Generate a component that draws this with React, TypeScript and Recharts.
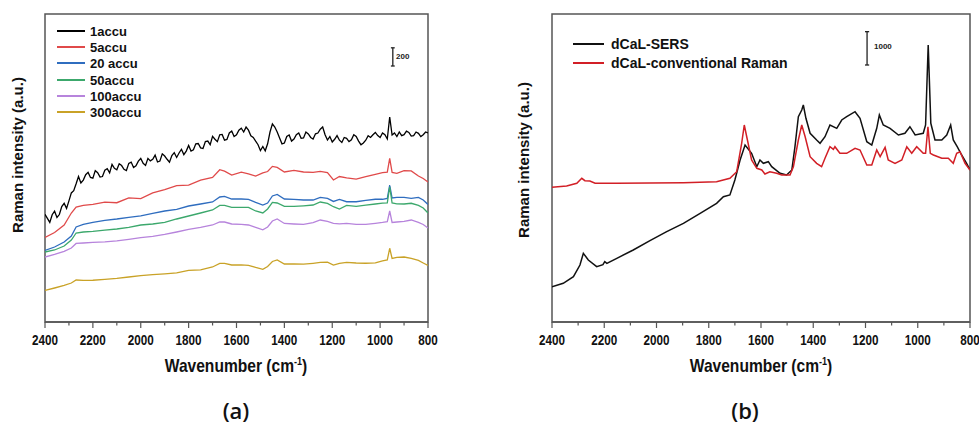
import React from "react";
import { LineChart, Line, XAxis, YAxis, ReferenceArea, ReferenceLine } from "recharts";

// ---- panel (a): accumulation series ----
const WAVE_A = [2400, 2360, 2320, 2290, 2270, 2240, 2200, 2150, 2100, 2050, 2000, 1950, 1900, 1850, 1800, 1750, 1700, 1670, 1650, 1620, 1580, 1550, 1520, 1490, 1470, 1450, 1430, 1400, 1360, 1320, 1280, 1250, 1220, 1195, 1170, 1140, 1100, 1060, 1020, 990, 970, 960, 950, 930, 900, 870, 840, 820, 800];
const ACCU5 = [930, 985, 1067, 1199, 1265, 1282, 1295, 1318, 1312, 1365, 1358, 1420, 1455, 1500, 1506, 1560, 1590, 1675, 1660, 1617, 1648, 1630, 1606, 1640, 1655, 1712, 1700, 1650, 1668, 1650, 1645, 1656, 1644, 1562, 1600, 1585, 1572, 1598, 1625, 1642, 1648, 1801, 1645, 1636, 1664, 1662, 1606, 1578, 1540];
const ACCU20 = [787, 825, 880, 946, 1045, 1073, 1095, 1119, 1133, 1150, 1168, 1194, 1221, 1240, 1276, 1298, 1320, 1375, 1381, 1353, 1353, 1348, 1315, 1287, 1309, 1386, 1403, 1353, 1348, 1342, 1342, 1370, 1359, 1326, 1348, 1323, 1323, 1337, 1350, 1350, 1359, 1507, 1364, 1370, 1370, 1361, 1370, 1342, 1293];
const ACCU50 = [770, 792, 836, 902, 979, 990, 996, 1010, 1023, 1040, 1067, 1078, 1095, 1133, 1166, 1199, 1232, 1282, 1282, 1260, 1260, 1260, 1221, 1199, 1243, 1315, 1309, 1271, 1271, 1278, 1287, 1320, 1304, 1268, 1243, 1282, 1273, 1285, 1298, 1307, 1311, 1488, 1309, 1300, 1298, 1306, 1282, 1254, 1199];
const ACCU100 = [715, 743, 776, 814, 864, 869, 875, 882, 893, 910, 928, 942, 963, 990, 1018, 1040, 1067, 1100, 1100, 1078, 1073, 1067, 1040, 1014, 1045, 1111, 1133, 1084, 1078, 1073, 1092, 1122, 1106, 1086, 1080, 1084, 1073, 1073, 1086, 1095, 1103, 1221, 1095, 1100, 1106, 1122, 1095, 1073, 1034];
const ACCU300 = [347, 374, 402, 429, 462, 457, 459, 468, 479, 495, 510, 521, 530, 541, 567, 574, 605, 644, 644, 627, 629, 624, 600, 580, 611, 666, 682, 638, 638, 636, 646, 655, 658, 627, 646, 655, 649, 646, 651, 673, 682, 811, 699, 710, 715, 699, 677, 649, 622];

// the single-accumulation spectrum is noisy: read every 10 cm-1, 2400 -> 800
const WAVE_A1 = Array.from({ length: 161 }, (_, i) => 2400 - 10 * i);
const ACCU1 = [
  1184, 1140, 1096, 1180, 1219, 1150, 1182, 1270, 1306, 1250,
  1332, 1420, 1445, 1520, 1601, 1530, 1561, 1620, 1646, 1590,
  1582, 1665, 1643, 1595, 1600, 1670, 1686, 1640, 1733, 1690,
  1675, 1740, 1721, 1680, 1666, 1745, 1759, 1700, 1718, 1770,
  1799, 1745, 1722, 1800, 1772, 1790, 1836, 1760, 1771, 1850,
  1826, 1790, 1758, 1830, 1863, 1810, 1859, 1900, 1841, 1880,
  1942, 1880, 1894, 1960, 1963, 1915, 1908, 1985, 1990, 1950,
  2042, 2010, 1984, 2060, 2063, 2000, 2008, 2080, 2101, 2040,
  2059, 2110, 2131, 2090, 2144, 2110, 2049, 2030, 1989, 1950,
  1885, 1930, 1883, 1960, 2090, 2180, 2145, 2090, 2024, 1960,
  1969, 2040, 2057, 1990, 2013, 2060, 2079, 2020, 2024, 2090,
  2068, 2030, 2013, 2070, 2079, 2120, 2145, 2060, 2002, 2040,
  1980, 2010, 2050, 2000, 1975, 2030, 2020, 1985, 2005, 2060,
  2040, 1990, 1950, 1970, 2000, 2050, 2030, 2060, 2085, 2050,
  2030, 2080, 2060, 2013, 2255, 2057, 2080, 2040, 2090, 2050,
  2060, 2100, 2085, 2045, 2050, 2090, 2075, 2040, 2060, 2090,
  2079,
];

const LABELS_A = ["1accu", "5accu", "20 accu", "50accu", "100accu", "300accu"];
const COLORS_A = ["#000000", "#e04a4a", "#2f6dbf", "#3ca86c", "#b784dc", "#c9a227"];

// ---- panel (b): SERS vs conventional ----
const SERS_WAVE = [2400, 2357, 2318, 2293, 2280, 2261, 2229, 2205, 2198, 2190, 2152, 2089, 2025, 1961, 1897, 1833, 1770, 1744, 1719, 1700, 1680, 1661, 1636, 1616, 1604, 1591, 1572, 1559, 1527, 1502, 1482, 1470, 1457, 1444, 1438, 1428, 1412, 1387, 1374, 1355, 1336, 1310, 1291, 1272, 1240, 1221, 1195, 1176, 1157, 1147, 1132, 1106, 1074, 1049, 1030, 1010, 979, 970, 960, 950, 934, 908, 889, 874, 864, 849, 832, 813, 800];
const SERS_INT = [1059, 1161, 1359, 1710, 2061, 1860, 1659, 1720, 1810, 1760, 1911, 2160, 2439, 2709, 2961, 3261, 3561, 3759, 3810, 4260, 4860, 5310, 5061, 4659, 4860, 4761, 4809, 4659, 4461, 4410, 4560, 5259, 6159, 6360, 6510, 6111, 5661, 5460, 5361, 5559, 5910, 5811, 6060, 6159, 6309, 6111, 5409, 5310, 5811, 6210, 5910, 5811, 5610, 5661, 5859, 5610, 5661, 5910, 8310, 5961, 5460, 5460, 5610, 5910, 5460, 5259, 5010, 4761, 4560];
const RAMAN_WAVE = [2400, 2344, 2305, 2286, 2274, 2255, 2235, 2152, 2025, 1897, 1770, 1719, 1693, 1674, 1664, 1652, 1636, 1616, 1597, 1585, 1566, 1540, 1521, 1489, 1476, 1457, 1444, 1431, 1412, 1387, 1368, 1355, 1336, 1323, 1317, 1298, 1272, 1240, 1221, 1195, 1176, 1157, 1144, 1125, 1113, 1087, 1061, 1042, 1023, 1004, 979, 970, 961, 952, 940, 908, 883, 864, 851, 838, 819, 800];
const RAMAN_INT = [4041, 4080, 4161, 4311, 4239, 4230, 4161, 4161, 4170, 4179, 4209, 4311, 4509, 5361, 5910, 5460, 4860, 4611, 4560, 4440, 4509, 4461, 4410, 4410, 4659, 5460, 5910, 5559, 4959, 4761, 4659, 4911, 5259, 5181, 5259, 5061, 5061, 5211, 5160, 4710, 4710, 5160, 4959, 5241, 4860, 4761, 4860, 5259, 5061, 5259, 5061, 5061, 5859, 5061, 5010, 4911, 4911, 4761, 5061, 5109, 4761, 4560];

const LABELS_B = ["dCaL-SERS", "dCaL-conventional Raman"];
const COLORS_B = ["#111111", "#d21f26"];

const TICKS = [2400, 2300, 2200, 2100, 2000, 1900, 1800, 1700, 1600, 1500, 1400, 1300, 1200, 1100, 1000, 900, 800];
const FRAME = "#555555";
const SANS = '"Liberation Sans", Arial, sans-serif';

const pairs = (ws: number[], vs: number[]) => ws.map((w, i) => ({ w, v: vs[i] }));

const seriesA = [
  pairs(WAVE_A1, ACCU1),
  pairs(WAVE_A, ACCU5),
  pairs(WAVE_A, ACCU20),
  pairs(WAVE_A, ACCU50),
  pairs(WAVE_A, ACCU100),
  pairs(WAVE_A, ACCU300),
];
const seriesB = [pairs(SERS_WAVE, SERS_INT), pairs(RAMAN_WAVE, RAMAN_INT)];

// major ticks every 200 with labels, minor ticks in between; labels squeezed to look condensed
const WaveTick = (props: any) => {
  const { x, y, payload } = props;
  const major = payload.value % 200 === 0;
  return (
    <g>
      <line x1={x} y1={y} x2={x} y2={y + (major ? 6 : 3.5)} stroke={FRAME} strokeWidth={1.2} />
      {major && (
        <text
          transform={`translate(${x},${y + 23}) scale(0.78,1)`}
          textAnchor="middle"
          fontSize={15}
          fontWeight={700}
          fontFamily={SANS}
          fill="#111"
        >
          {payload.value}
        </text>
      )}
    </g>
  );
};

function ScaleBar({ w, v0, dv, dw }: { w: number; v0: number; dv: number; dw: number }) {
  return (
    <>
      <ReferenceLine segment={[{ x: w, y: v0 }, { x: w, y: v0 + dv }]} stroke="#222" strokeWidth={1.3} ifOverflow="visible" />
      <ReferenceLine segment={[{ x: w - dw, y: v0 }, { x: w + dw, y: v0 }]} stroke="#222" strokeWidth={1.3} ifOverflow="visible" />
      <ReferenceLine segment={[{ x: w - dw, y: v0 + dv }, { x: w + dw, y: v0 + dv }]} stroke="#222" strokeWidth={1.3} ifOverflow="visible" />
    </>
  );
}

function Panel({ series, colors, yMax, width, left, right, strokeWidth, bar }: any) {
  return (
    <LineChart width={width} height={430} margin={{ top: 14, right, bottom: 78, left }}>
      <XAxis
        type="number"
        dataKey="w"
        domain={[800, 2400]}
        reversed
        allowDataOverflow
        ticks={TICKS}
        interval={0}
        tick={(p: any) => <WaveTick {...p} />}
        tickLine={false}
        tickSize={0}
        tickMargin={0}
        height={30}
        axisLine={{ stroke: FRAME, strokeWidth: 1.5 }}
      />
      <YAxis hide type="number" domain={[0, yMax]} allowDataOverflow />
      <ReferenceArea x1={800} x2={2400} y1={0} y2={yMax} fill="none" stroke={FRAME} strokeWidth={1.5} ifOverflow="visible" />
      {bar}
      {series.map((d: any, i: number) => (
        <Line
          key={i}
          data={d}
          dataKey="v"
          type="linear"
          stroke={colors[i]}
          strokeWidth={strokeWidth}
          dot={false}
          activeDot={false}
          isAnimationActive={false}
        />
      ))}
    </LineChart>
  );
}

const abs = (style: React.CSSProperties): React.CSSProperties => ({ position: "absolute", whiteSpace: "nowrap", ...style });

export default function App() {
  return (
    <div style={{ position: "absolute", left: 0, top: 0, width: 979, height: 430, background: "#fff", overflow: "hidden" }}>
      <div style={abs({ left: 0, top: 0 })}>
        <Panel
          series={seriesA}
          colors={COLORS_A}
          yMax={3388}
          width={440}
          left={45}
          right={12}
          strokeWidth={1.3}
          bar={<ScaleBar w={947} v0={2816} dv={200} dw={8} />}
        />
      </div>
      <div style={abs({ left: 500, top: 0 })}>
        <Panel
          series={seriesB}
          colors={COLORS_B}
          yMax={9240}
          width={479}
          left={52}
          right={9}
          strokeWidth={1.5}
          bar={<ScaleBar w={1194} v0={7710} dv={1000} dw={8} />}
        />
      </div>

      {/* legends */}
      {LABELS_A.map((t, i) => (
        <div key={t} style={abs({ left: 57, top: Math.round(23 + i * 16.2), height: 16, display: "flex", alignItems: "center" })}>
          <div style={{ width: 28, height: 2, background: COLORS_A[i] }} />
          <span style={{ marginLeft: 5, font: `700 13px ${SANS}`, color: "#111" }}>{t}</span>
        </div>
      ))}
      {LABELS_B.map((t, i) => (
        <div key={t} style={abs({ left: 573, top: Math.round(35 + i * 18.6), height: 18, display: "flex", alignItems: "center" })}>
          <div style={{ width: 31, height: 2, background: COLORS_B[i] }} />
          <span style={{ marginLeft: 7, font: `700 14px ${SANS}`, color: "#111" }}>{t}</span>
        </div>
      ))}

      {/* scale bar labels */}
      <div style={abs({ left: 396, top: 52, font: `700 8px ${SANS}`, color: "#222" })}>200</div>
      <div style={abs({ left: 874, top: 42, font: `700 8px ${SANS}`, color: "#222" })}>1000</div>

      {/* axis titles */}
      <div style={abs({ left: 17, top: 155, transform: "translate(-50%, -50%) rotate(-90deg)", font: `700 15px ${SANS}`, color: "#111" })}>
        Raman intensity (a.u.)
      </div>
      <div style={abs({ left: 523, top: 160, transform: "translate(-50%, -50%) rotate(-90deg)", font: `700 15px ${SANS}`, color: "#111" })}>
        Raman intensity (a.u.)
      </div>
      <div style={abs({ left: 236, top: 366, transform: "translate(-50%, -50%) scaleX(0.82)", font: `700 19px ${SANS}`, color: "#111" })}>
        Wavenumber (cm<sup style={{ fontSize: 11 }}>-1</sup>)
      </div>
      <div style={abs({ left: 761, top: 366, transform: "translate(-50%, -50%) scaleX(0.82)", font: `700 19px ${SANS}`, color: "#111" })}>
        Wavenumber (cm<sup style={{ fontSize: 11 }}>-1</sup>)
      </div>

      {/* panel letters */}
      <div style={abs({ left: 236, top: 410, transform: "translate(-50%, -50%)", font: `600 22px "Open Sans", sans-serif`, color: "#111" })}>(a)</div>
      <div style={abs({ left: 745, top: 410, transform: "translate(-50%, -50%)", font: `600 22px "Open Sans", sans-serif`, color: "#111" })}>(b)</div>
    </div>
  );
}
